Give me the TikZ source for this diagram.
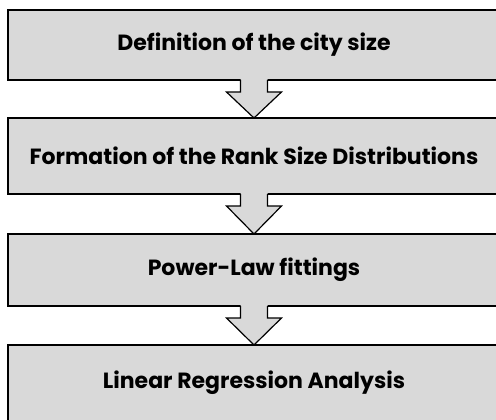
\documentclass[tikz,border=0pt]{standalone}
\usepackage{fontspec}
\setmainfont{Poppins}
\usetikzlibrary{positioning,calc}

\definecolor{grisboite}{HTML}{D9D9D9}

\tikzset{
  etape/.style={draw=black, line width=1.2pt, fill=grisboite, outer sep=0pt,
    minimum width=492pt, inner sep=0pt,
    font=\bfseries\fontsize{22}{26}\selectfont},
  contour/.style={draw=black, line width=1.2pt, line join=miter}
}

% fleche creuse entre deux etapes
\newcommand{\fleche}[2]{%
  \fill[grisboite] ($(#1.south)+(-13.5,0.8)$) -- ($(#1.south)+(-13.5,-12)$)
    -- ($(#1.south)+(-27.5,-12)$) -- (#2.north) -- ($(#1.south)+(27.5,-12)$)
    -- ($(#1.south)+(13.5,-12)$) -- ($(#1.south)+(13.5,0.8)$) -- cycle;
  \draw[contour] (#1.south) ++(-13.5,0) -- ($(#1.south)+(-13.5,-12)$)
    -- ($(#1.south)+(-27.5,-12)$) -- (#2.north) -- ($(#1.south)+(27.5,-12)$)
    -- ($(#1.south)+(13.5,-12)$) -- ($(#1.south)+(13.5,0)$);
}

\begin{document}
\begin{tikzpicture}[x=1pt, y=1pt]
\useasboundingbox (0,0) rectangle (496,-420);

% etapes
\node[etape, minimum height=70pt, anchor=north west] (def) at (8,-10) {Definition of the city size};
\node[etape, minimum height=76pt, below=38pt of def] (rang) {Formation of the Rank Size Distributions};
\node[etape, minimum height=72pt, below=40pt of rang] (loi) {Power-Law fittings};
\node[etape, minimum height=76pt, below=39pt of loi] (reg) {Linear Regression Analysis};

% fleches
\fleche{def}{rang}
\fleche{rang}{loi}
\fleche{loi}{reg}

\end{tikzpicture}
\end{document}
